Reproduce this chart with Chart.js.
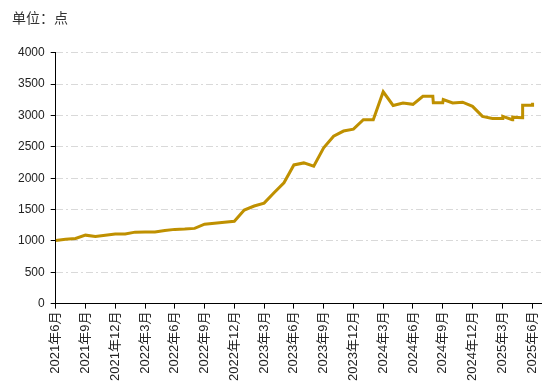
<!DOCTYPE html>
<html>
<head>
<meta charset="utf-8">
<script src="https://cdn.jsdelivr.net/npm/chart.js@4/dist/chart.umd.min.js"></script>
<style>
  html, body { margin: 0; padding: 0; background: #fff; }
  #wrap { width: 554px; height: 387px; position: relative; }
</style>
</head>
<body>
<div id="wrap"><canvas id="c"></canvas></div>
<script>
// months since 2021-06 (steps use a second point a few days later)
var monthIdx = [0, 1, 2, 3, 4, 5, 6, 7, 8, 9, 10, 11, 12, 13, 14, 15, 16, 17, 18, 19,
  20, 21, 22, 23, 24, 25, 26, 27, 28, 29, 30, 31, 32, 33, 34, 35, 36, 37,
  38, 38.05, 39, 39.05, 40, 41, 42, 43, 44, 45, 45.05, 46, 46.05, 47, 47.05, 48, 48.05];
var values = [1005, 1025, 1040, 1092, 1072, 1090, 1110, 1110, 1140, 1143, 1143, 1166, 1184, 1190, 1200, 1266, 1282, 1298, 1314, 1492,
  1557, 1603, 1768, 1928, 2212, 2244, 2192, 2484, 2670, 2752, 2782, 2933, 2933, 3378, 3160, 3200, 3178, 3306,
  3306, 3205, 3205, 3253, 3199, 3212, 3146, 2986, 2954, 2954, 2986, 2933, 2974, 2965, 3162, 3162, 3205];
var tickPos = [0, 3, 6, 9, 12, 15, 18, 21, 24, 27, 30, 33, 36, 39, 42, 45, 48];
var tickLabels = ['2021年6月', '2021年9月', '2021年12月', '2022年3月', '2022年6月', '2022年9月',
  '2022年12月', '2023年3月', '2023年6月', '2023年9月', '2023年12月', '2024年3月',
  '2024年6月', '2024年9月', '2024年12月', '2025年3月', '2025年6月'];
var yTicks = [0, 500, 1000, 1500, 2000, 2500, 3000, 3500, 4000];

var pts = [];
for (var i = 0; i < values.length; i++) pts.push({ x: monthIdx[i], y: values[i] });

var fontFam = '"Liberation Sans", Arial, "Noto Sans CJK SC", sans-serif';

new Chart(document.getElementById('c'), {
  type: 'line',
  data: {
    datasets: [{
      data: pts,
      borderColor: '#bf9000',
      borderWidth: 3,
      pointRadius: 0,
      tension: 0,
      fill: false
    }]
  },
  options: {
    responsive: true,
    maintainAspectRatio: false,
    animation: false,
    layout: { padding: { left: 12, right: 13, top: 0, bottom: 3 } },
    plugins: {
      legend: { display: false },
      tooltip: { enabled: false },
      title: {
        display: true,
        text: '单位：点',
        align: 'start',
        color: '#333',
        font: { family: fontFam, size: 14, weight: 'normal' },
        padding: { top: 11, bottom: 25 }
      }
    },
    scales: {
      x: {
        type: 'linear',
        min: 0,
        max: 48.9,
        afterBuildTicks: function (axis) {
          axis.ticks = tickPos.map(function (v) { return { value: v }; });
        },
        ticks: {
          autoSkip: false,
          minRotation: 90,
          maxRotation: 90,
          padding: 3,
          color: '#222',
          font: { family: fontFam, size: 13 },
          callback: function (v) {
            var k = tickPos.indexOf(v);
            return k >= 0 ? tickLabels[k] : '';
          }
        },
        grid: { drawOnChartArea: false, tickLength: 5, tickColor: '#000' },
        border: { color: '#000', width: 1 }
      },
      y: {
        min: 0,
        max: 4000,
        afterBuildTicks: function (axis) {
          axis.ticks = yTicks.map(function (v) { return { value: v }; });
        },
        ticks: {
          padding: 6,
          color: '#222',
          font: { family: fontFam, size: 12 },
          callback: function (v) { return String(v); }
        },
        grid: { color: '#d9d9d9', lineWidth: 1, tickLength: 5, tickColor: '#000', tickBorderDash: [] },
        border: { color: '#000', width: 1, dash: [7, 3, 2, 3] }
      }
    }
  }
});
</script>
</body>
</html>
